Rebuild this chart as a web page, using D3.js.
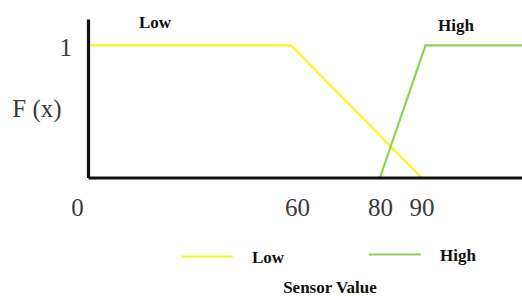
<!DOCTYPE html>
<html>
<head>
<meta charset="utf-8">
<script src="https://cdn.jsdelivr.net/npm/d3@7"></script>
<style>
  html, body { margin: 0; padding: 0; background: #fff; }
  svg { display: block; }
</style>
</head>
<body>
<svg id="chart" width="522" height="296"></svg>
<script>
// ---- data ----
const xTickValues = [0, 60, 80, 90];
const yTickValues = [1];
const lowX = [0, 60, 90];
const lowY = [1, 1, 0];
const highX = [80, 91, 115];
const highY = [0, 1, 1];
const seriesNames = ["Low", "High"];
const yLabel = "F (x)";
const xLabel = "Sensor Value";

// ---- layout ----
const W = 522, H = 296;
const svg = d3.select("#chart");
const serif = "'Liberation Serif', 'Times New Roman', serif";
const colors = { Low: "#f7f71e", High: "#92d050" };

// piecewise-linear x scale (the drawing is not uniformly scaled)
const x = d3.scaleLinear().domain([0, 60, 80, 90, 115]).range([88, 291, 380, 421.5, 522]);
const y = d3.scaleLinear().domain([0, 1.2]).range([177.5, 19]);

const line = d3.line().x(d => x(d[0])).y(d => y(d[1]));

// series
const series = [
  { name: "Low", pts: d3.zip(lowX, lowY) },
  { name: "High", pts: d3.zip(highX, highY) }
];
svg.selectAll("path.series").data(series).join("path")
  .attr("class", "series")
  .attr("d", d => line(d.pts))
  .attr("fill", "none")
  .attr("stroke", d => colors[d.name])
  .attr("stroke-width", 2.2);

// axes
const xAxis = d3.axisBottom(x).tickValues(xTickValues).tickSize(0).tickSizeOuter(0).tickPadding(27)
  .tickFormat(d3.format("d"));
const gx = svg.append("g").attr("transform", `translate(0,${y(0)})`).call(xAxis);
const yAxis = d3.axisLeft(y).tickValues(yTickValues).tickSize(0).tickSizeOuter(0).tickPadding(16)
  .tickFormat(d3.format("d"));
const gy = svg.append("g").attr("transform", `translate(${x(0)},0)`).call(yAxis);

[gx, gy].forEach(g => {
  g.select(".domain").attr("stroke", "#111").attr("stroke-width", 3.2).attr("stroke-linejoin", "round");
  g.selectAll("text").attr("font-family", serif).attr("font-size", 25).attr("fill", "#3a3a3a");
});
gx.selectAll(".tick text").attr("dy", "0.45em")
  .attr("dx", d => d === 0 ? -11 : (d === 60 ? 6 : 0));
gy.selectAll(".tick text").attr("dy", "0.4em");

// y label
svg.append("text").attr("x", 37).attr("y", 108).attr("dy", "0.35em")
  .attr("text-anchor", "middle").attr("font-family", serif).attr("font-size", 25)
  .attr("fill", "#3a3a3a").text(yLabel);

// series labels above curves
svg.append("text").attr("x", 155).attr("y", 22).attr("dy", "0.35em").attr("text-anchor", "middle")
  .attr("font-family", serif).attr("font-weight", "bold").attr("font-size", 17).attr("fill", "#111")
  .text(seriesNames[0]);
svg.append("text").attr("x", 456).attr("y", 25).attr("dy", "0.35em").attr("text-anchor", "middle")
  .attr("font-family", serif).attr("font-weight", "bold").attr("font-size", 17).attr("fill", "#111")
  .text(seriesNames[1]);

// legend
const legend = [
  { name: "Low", x0: 181, y: 256.5 },
  { name: "High", x0: 369, y: 254.5 }
];
const lg = svg.selectAll("g.legend").data(legend).join("g").attr("class", "legend");
lg.append("line").attr("x1", d => d.x0).attr("x2", d => d.x0 + 52)
  .attr("y1", d => d.y).attr("y2", d => d.y)
  .attr("stroke", d => colors[d.name]).attr("stroke-width", 2.2);
lg.append("text").attr("x", d => d.x0 + 71).attr("y", d => d.y + 1).attr("dy", "0.35em")
  .attr("font-family", serif).attr("font-weight", "bold").attr("font-size", 17).attr("fill", "#111")
  .text(d => d.name);

// x label
svg.append("text").attr("x", 330).attr("y", 287).attr("dy", "0.35em").attr("text-anchor", "middle")
  .attr("font-family", serif).attr("font-weight", "bold").attr("font-size", 17).attr("fill", "#111")
  .text(xLabel);
</script>
</body>
</html>
